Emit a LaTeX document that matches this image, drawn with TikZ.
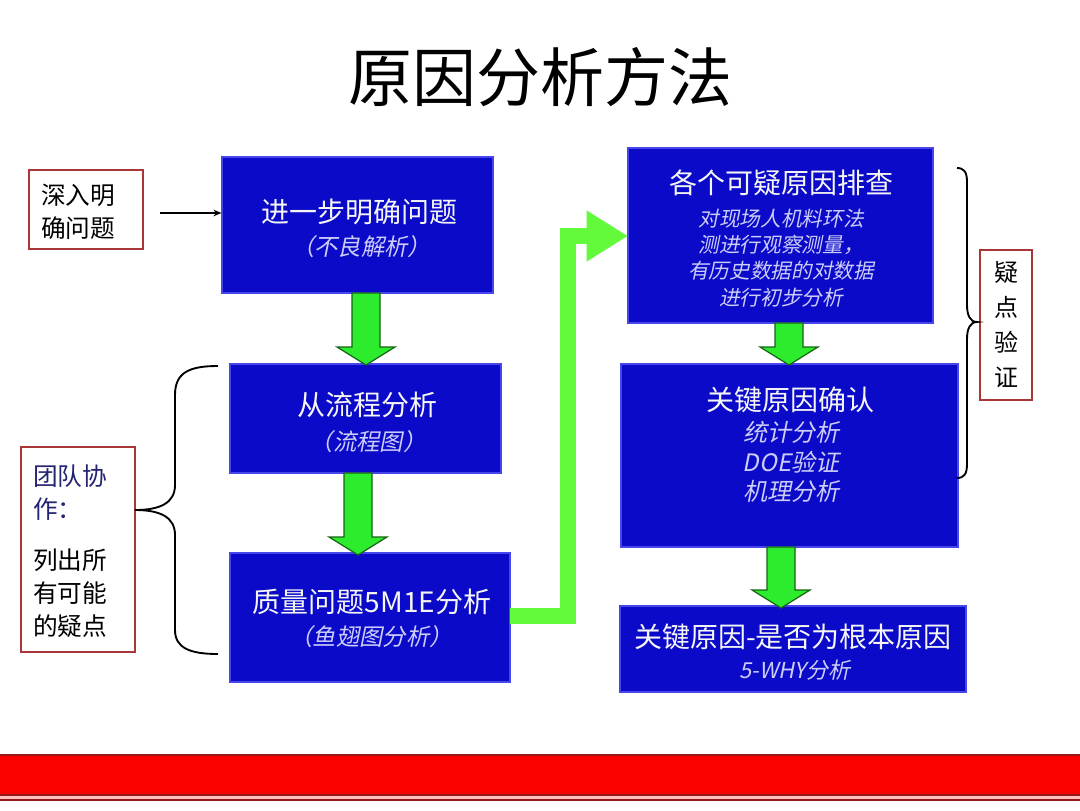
\documentclass[tikz,border=0pt]{standalone}
\usepackage{fontspec}
\newfontfamily\cjk{Noto Sans CJK SC}
\newfontfamily\cjkit[FakeSlant=0.2]{Noto Sans CJK SC}
\usetikzlibrary{fit,calc,arrows.meta}
\definecolor{boxblue}{RGB}{10,10,200}
\definecolor{boxedge}{RGB}{70,70,235}
\definecolor{subcol}{RGB}{205,205,250}
\definecolor{titlecol}{RGB}{245,245,245}
\definecolor{gfill}{RGB}{45,235,45}
\definecolor{gedge}{RGB}{20,100,20}
\definecolor{lgreen}{RGB}{100,250,60}
\definecolor{redbox}{RGB}{170,55,55}
\definecolor{navytxt}{RGB}{35,35,115}
\definecolor{barred}{RGB}{250,0,0}
\definecolor{bardark}{RGB}{150,25,25}
\newcommand\gdn[2]{%
  \filldraw[garrow] ($(#1)+(-14,0)$) -- ($(#1)+(14,0)$) -- ($(#2)+(14,-18)$) -- ($(#2)+(29,-18)$) -- (#2) -- ($(#2)+(-29,-18)$) -- ($(#2)+(-14,-18)$) -- cycle;}
\begin{document}
\begin{tikzpicture}[x=0.75pt,y=-0.75pt,
  bluebox/.style={draw=boxedge, fill=boxblue, line width=0.9pt, inner sep=0pt},
  redframe/.style={draw=redbox, line width=1.2pt, inner sep=0pt},
  btitle/.style={text=titlecol, font=\cjk\fontsize{21pt}{25pt}\selectfont, inner sep=0pt},
  bsub/.style={text=subcol, font=\cjkit\fontsize{17.5pt}{20pt}\selectfont, align=center, inner sep=0pt},
  sidetext/.style={text=black, font=\cjk\fontsize{18.5pt}{24.75pt}\selectfont, inner sep=0pt},
  garrow/.style={fill=gfill, draw=gedge, line width=0.9pt, line join=miter},
  bracestyle/.style={draw=black, line width=1.4pt},
]
\useasboundingbox (0,0) rectangle (1080,810);
\fill[white] (0,0) rectangle (1080,810);

% title
\node[font=\cjk\fontsize{48pt}{56pt}\selectfont, inner sep=0pt] (title) at (540,77) {原因分析方法};

% blue boxes
\node[bluebox, fit={(222,157)(493,293)}] (b1) {};
\node[bluebox, fit={(230,364)(501,473)}] (b2) {};
\node[bluebox, fit={(230,553)(510,682)}] (b3) {};
\node[bluebox, fit={(628,148)(933,323)}] (b4) {};
\node[bluebox, fit={(621,364)(958,547)}] (b5) {};
\node[bluebox, fit={(620,606)(966,692)}] (b6) {};

% texts in boxes
\node[btitle] (t1) at (359,212) {进一步明确问题};
\node[bsub] (s1) at (361,247) {（不良解析）};
\node[btitle] (t2) at (367,405) {从流程分析};
\node[bsub] (s2) at (368,442) {（流程图）};
\node[btitle] (t3) at (372,602) {质量问题5M1E分析};
\node[bsub] (s3) at (371,637) {（鱼翅图分析）};
\node[btitle] (t4) at (781,183) {各个可疑原因排查};
\node[bsub, font=\cjkit\fontsize{15.5pt}{19.7pt}\selectfont] (s4) at (781,258) {对现场人机料环法\\测进行观察测量，\\有历史数据的对数据\\进行初步分析};
\node[btitle] (t5) at (790,400) {关键原因确认};
\node[bsub, font=\cjkit\fontsize{18pt}{22.2pt}\selectfont] (s5) at (791,462) {统计分析\\DOE验证\\机理分析};
\node[btitle] (t6) at (793,637) {关键原因-是否为根本原因};
\node[bsub, font=\cjkit\fontsize{16.5pt}{20pt}\selectfont] (s6) at (795,670) {5-WHY分析};

% side boxes
\node[redframe, fit={(29,170)(143,249)}] (r1) {};
\node[sidetext, align=center] (r1t) at (78,212) {深入明\\确问题};
\node[redframe, fit={(21,447)(135,652)}] (r2) {};
\node[sidetext, align=left, anchor=west] (r2t) at (33,551) {\textcolor{navytxt}{团队协}\\\textcolor{navytxt}{作：}\\[13.5pt]列出所\\有可能\\的疑点};
\node[redframe, fit={(980,250)(1032,400)}] (r3) {};
\node[sidetext, font=\cjk\fontsize{18pt}{26.25pt}\selectfont, align=center] (r3t) at (r3.center) {疑\\点\\验\\证};

% black arrow
\coordinate (k0) at (160,213);
\draw[line width=1.1pt, -{Stealth[length=6pt,width=5pt]}] (k0) -- (k0 -| b1.west);

% green down arrows
\coordinate (a1t) at (366,293); \coordinate (a1b) at (366,365);
\coordinate (a2t) at (358,473); \coordinate (a2b) at (358,555);
\coordinate (a4t) at (789,323); \coordinate (a4b) at (789,365);
\coordinate (a5t) at (781,547); \coordinate (a5b) at (781,608);
\gdn{a1t}{a1b}
\gdn{a2t}{a2b}
\gdn{a4t}{a4b}
\gdn{a5t}{a5b}

% green L arrow
\coordinate (l0) at (510,616);
\coordinate (l1) at (568,616);
\coordinate (l2) at (568,236);
\coordinate (l3) at (628,236);
\draw[lgreen, line width=12pt, line join=miter, -{Triangle[width=36pt,length=31pt]}] (l0) -- (l1) -- (l2) -- (l3);

% braces
\draw[bracestyle] (218,366) .. controls (190,366) and (175,372) .. (175,395) -- (175,485) .. controls (175,503) and (160,510) .. (135,510) .. controls (160,510) and (175,517) .. (175,535) -- (175,630) .. controls (175,648) and (190,654) .. (218,654);
\draw[bracestyle] (957,168) .. controls (964,168) and (967,172) .. (967,182) -- (967,305) .. controls (967,315) and (970,322) .. (977,322) .. controls (970,322) and (967,329) .. (967,339) -- (967,464) .. controls (967,474) and (964,478) .. (957,478);

% bottom bar
\fill[barred] (0,755) rectangle (1080,795);
\draw[bardark, line width=1.2pt] (0,755) -- (1080,755);
\draw[bardark, line width=1.2pt] (0,795) -- (1080,795);
\fill[red!25] (0,796) rectangle (1080,799);
\draw[bardark, line width=1.5pt] (0,800) -- (1080,800);
\end{tikzpicture}
\end{document}
